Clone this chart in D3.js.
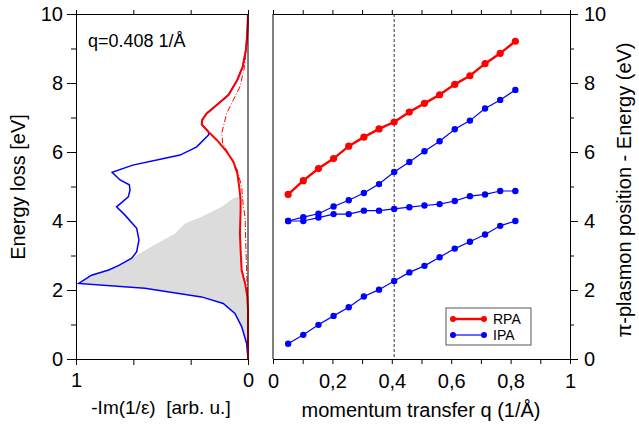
<!DOCTYPE html>
<html lang="en">
<head>
  <meta charset="UTF-8">
  <title>pi-plasmon dispersion</title>
  <script src="https://d3js.org/d3.v7.min.js"></script>
  <style>
    body { margin: 0; background: #fff; }
    svg text { font-family: "Liberation Sans", Arial, Helvetica, sans-serif; fill: #000; }
  </style>
</head>
<body>
  <div id="chart"></div>
  <script>
    // right panel: dispersion, q in 1/Å
    const qValues = [0.051, 0.102, 0.153, 0.204, 0.255, 0.306, 0.357, 0.408,
                     0.459, 0.510, 0.561, 0.612, 0.663, 0.714, 0.765, 0.816];
    const rpaEnergy = [4.77, 5.17, 5.52, 5.81, 6.17, 6.43, 6.67, 6.87,
                       7.16, 7.41, 7.66, 7.96, 8.21, 8.56, 8.86, 9.21];
    const ipaUpper = [4.00, 4.11, 4.21, 4.42, 4.60, 4.81, 5.07, 5.42,
                      5.71, 6.02, 6.31, 6.66, 6.91, 7.26, 7.51, 7.80];
    const ipaMiddle = [4.00, 4.00, 4.10, 4.20, 4.20, 4.30, 4.30, 4.35,
                       4.40, 4.45, 4.49, 4.58, 4.72, 4.77, 4.87, 4.87];
    const ipaLower = [0.44, 0.70, 0.99, 1.25, 1.50, 1.81, 2.01, 2.26,
                      2.51, 2.70, 2.95, 3.20, 3.40, 3.61, 3.86, 4.00];
    const selectedQ = 0.408;

    // left panel: loss function at q=0.408 (energy, intensity)
    const ipaLossE = [0, 0.45, 0.94, 1.32, 1.61, 1.80, 2.05, 2.19, 2.43, 2.58, 2.72, 2.92,
                      3.11, 3.45, 3.79, 4.17, 4.41, 4.70, 4.90, 5.05, 5.19, 5.41, 5.62,
                      5.79, 5.91, 6.15, 6.51, 6.59, 6.80, 6.93, 7.12, 7.36, 7.65, 8.09,
                      8.47, 8.96, 9.44, 10];
    const ipaLossV = [0, 0.008, 0.037, 0.076, 0.144, 0.27, 0.60, 0.984, 0.91, 0.81, 0.748, 0.676,
                      0.647, 0.634, 0.647, 0.715, 0.764, 0.696, 0.686, 0.69, 0.744, 0.79, 0.67,
                      0.51, 0.395, 0.298, 0.227, 0.231, 0.269, 0.266, 0.24, 0.182, 0.114, 0.062,
                      0.031, 0.012, 0.004, 0];
    const rpaLossE = [0, 1.42, 1.81, 2.19, 2.58, 3.16, 3.64, 4.32, 4.61, 4.99, 5.38, 5.72,
                      6.01, 6.35, 6.59, 6.80, 6.93, 7.12, 7.36, 7.65, 8.09, 8.47, 8.96, 9.44, 10];
    const rpaLossV = [0, 0, 0.004, 0.017, 0.037, 0.043, 0.047, 0.043, 0.043, 0.051, 0.062, 0.085,
                      0.124, 0.182, 0.231, 0.269, 0.266, 0.24, 0.182, 0.114, 0.062, 0.031, 0.012, 0.004, 0];
    const rpaAltE = [0, 2.0, 3.16, 4.12, 4.41, 4.99, 5.48, 5.87, 6.25, 6.54, 7.12, 7.51, 7.89, 8.47, 9.2, 10];
    const rpaAltV = [0, 0.004, 0.012, 0.017, 0.027, 0.037, 0.062, 0.105, 0.147, 0.153, 0.124, 0.085, 0.047, 0.02, 0.006, 0];
    // grey shaded region, left edge
    const shadeE = [0, 0.45, 0.94, 1.32, 1.61, 1.80, 2.05, 2.19, 2.43, 2.58, 2.72, 2.92,
                    3.26, 3.64, 3.93, 4.12, 4.41, 4.66, 4.72];
    const shadeV = [0, 0.008, 0.037, 0.076, 0.144, 0.27, 0.60, 0.984, 0.91, 0.81, 0.748, 0.676,
                    0.56, 0.424, 0.366, 0.269, 0.153, 0.085, 0.045];

    const width = 639, height = 428;
    const yTop = 14, yBottom = 359;
    const font = "Liberation Sans, Arial, Helvetica, sans-serif";

    const svg = d3.select("#chart").append("svg")
      .attr("width", width).attr("height", height)
      .attr("font-family", font);

    const yScale = d3.scaleLinear().domain([0, 10]).range([yBottom, yTop]);
    const xLoss = d3.scaleLinear().domain([1, 0]).range([76, 248]);
    const xQ = d3.scaleLinear().domain([0, 1]).range([273, 570]);

    // ---- left panel ----
    const zip = (a, b) => a.map((v, i) => [v, b[i]]);

    const redEdge = zip(rpaLossE, rpaLossV).filter(d => d[0] <= 4.72).reverse();
    const shadePoly = zip(shadeE, shadeV).concat(redEdge);
    svg.append("path")
      .attr("d", d3.line().x(d => xLoss(d[1])).y(d => yScale(d[0]))(shadePoly) + "Z")
      .attr("fill", "#dcdcdc");

    const lossLine = d3.line().x(d => xLoss(d[1])).y(d => yScale(d[0]));

    svg.append("path")
      .attr("d", lossLine(zip(ipaLossE, ipaLossV)))
      .attr("fill", "none").attr("stroke", "#0000ff").attr("stroke-width", 1.5);

    svg.append("path")
      .attr("d", lossLine(zip(rpaAltE, rpaAltV)))
      .attr("fill", "none").attr("stroke", "#ff0000").attr("stroke-width", 1)
      .attr("stroke-dasharray", "6,2,1,2");

    svg.append("path")
      .attr("d", lossLine(zip(rpaLossE, rpaLossV)))
      .attr("fill", "none").attr("stroke", "#ff0000").attr("stroke-width", 2);

    // frame + axes for left panel
    const styleText = g => g.attr("font-family", font)
      .selectAll("text").attr("font-size", 20);

    svg.append("g").attr("transform", `translate(76,0)`)
      .call(d3.axisLeft(yScale).tickValues([0, 2, 4, 6, 8, 10]).tickSize(9).tickPadding(4))
      .call(styleText);
    svg.append("g").attr("transform", `translate(76,0)`)
      .call(d3.axisLeft(yScale).tickValues([1, 3, 5, 7, 9]).tickSize(5).tickFormat(""));
    svg.append("g").attr("transform", `translate(0,${yBottom})`)
      .call(d3.axisBottom(xLoss).tickValues([1, 2 / 3, 1 / 3, 0]).tickSize(6).tickPadding(8)
        .tickFormat(d => (d === 0 || d === 1) ? d : ""))
      .call(styleText);
    svg.append("g").attr("transform", `translate(0,${yTop})`)
      .call(d3.axisTop(xLoss).tickValues([1, 2 / 3, 1 / 3, 0]).tickSize(4).tickFormat(""));
    svg.append("line").attr("x1", 248).attr("x2", 248).attr("y1", yTop).attr("y2", yBottom)
      .attr("stroke", "#000");

    // ---- right panel ----
    svg.append("line")
      .attr("x1", xQ(selectedQ)).attr("x2", xQ(selectedQ))
      .attr("y1", yTop).attr("y2", yBottom)
      .attr("stroke", "#333").attr("stroke-dasharray", "3,2");

    const series = [
      { values: ipaLower, color: "#0000ff", w: 1.2, r: 3.2 },
      { values: ipaMiddle, color: "#0000ff", w: 1.2, r: 3.2 },
      { values: ipaUpper, color: "#0000ff", w: 1.2, r: 3.2 },
      { values: rpaEnergy, color: "#ff0000", w: 2.4, r: 3.6 }
    ];
    const qLine = d3.line().x(d => xQ(d[0])).y(d => yScale(d[1]));
    series.forEach(s => {
      const pts = zip(qValues, s.values);
      svg.append("path").attr("d", qLine(pts))
        .attr("fill", "none").attr("stroke", s.color).attr("stroke-width", s.w);
      svg.append("g").selectAll("circle").data(pts).enter().append("circle")
        .attr("cx", d => xQ(d[0])).attr("cy", d => yScale(d[1]))
        .attr("r", s.r).attr("fill", s.color);
    });

    const qTicks = d3.range(0, 1.0001, 0.1);
    svg.append("g").attr("transform", `translate(0,${yBottom})`)
      .call(d3.axisBottom(xQ).tickValues(qTicks).tickSize(5).tickPadding(10)
        .tickFormat(d => {
          const k = Math.round(d * 10);
          if (k % 2) return "";
          return k === 0 ? "0" : k === 10 ? "1" : "0," + k;
        }))
      .call(styleText);
    svg.append("g").attr("transform", `translate(0,${yTop})`)
      .call(d3.axisTop(xQ).tickValues(qTicks).tickSize(4).tickFormat(""));
    svg.append("g").attr("transform", `translate(570,0)`)
      .call(d3.axisRight(yScale).tickValues([0, 2, 4, 6, 8, 10]).tickSize(8).tickPadding(6))
      .call(styleText);
    svg.append("g").attr("transform", `translate(570,0)`)
      .call(d3.axisRight(yScale).tickValues([1, 3, 5, 7, 9]).tickSize(4).tickFormat(""));
    svg.append("line").attr("x1", 273).attr("x2", 273).attr("y1", yTop).attr("y2", yBottom)
      .attr("stroke", "#000");

    svg.selectAll(".domain").attr("stroke", "#000");
    svg.selectAll(".tick line").attr("stroke", "#000");
    svg.selectAll(".tick text").attr("fill", "#000");

    // legend
    const legend = svg.append("g").attr("transform", "translate(446,308)");
    legend.append("rect").attr("width", 85).attr("height", 37)
      .attr("fill", "#fff").attr("stroke", "#555");
    const legendItems = [
      { label: "RPA", color: "#ff0000", w: 2.4 },
      { label: "IPA", color: "#0000ff", w: 1.2 }
    ];
    legendItems.forEach((d, i) => {
      const y = 11 + i * 16;
      legend.append("line").attr("x1", 7).attr("x2", 38).attr("y1", y).attr("y2", y)
        .attr("stroke", d.color).attr("stroke-width", d.w);
      [7, 38].forEach(x => legend.append("circle").attr("cx", x).attr("cy", y)
        .attr("r", 3).attr("fill", d.color));
      legend.append("text").attr("x", 47).attr("y", y + 5).attr("font-size", 14).text(d.label);
    });

    // labels
    svg.append("text").attr("x", 88).attr("y", 47).attr("font-size", 18)
      .text("q=0.408 1/Å");
    svg.append("text").attr("transform", "translate(25,187) rotate(-90)")
      .attr("text-anchor", "middle").attr("font-size", 20).text("Energy loss [eV]");
    svg.append("text").attr("transform", "translate(631,190) rotate(-90)")
      .attr("text-anchor", "middle").attr("font-size", 20)
      .text("π-plasmon position - Energy (eV)");
    svg.append("text").attr("x", 161).attr("y", 414).attr("text-anchor", "middle")
      .attr("font-size", 19).attr("xml:space", "preserve").text("-Im(1/ε)  [arb. u.]");
    svg.append("text").attr("x", 421).attr("y", 417).attr("text-anchor", "middle")
      .attr("font-size", 20).text("momentum transfer q (1/Å)");
  </script>
</body>
</html>
